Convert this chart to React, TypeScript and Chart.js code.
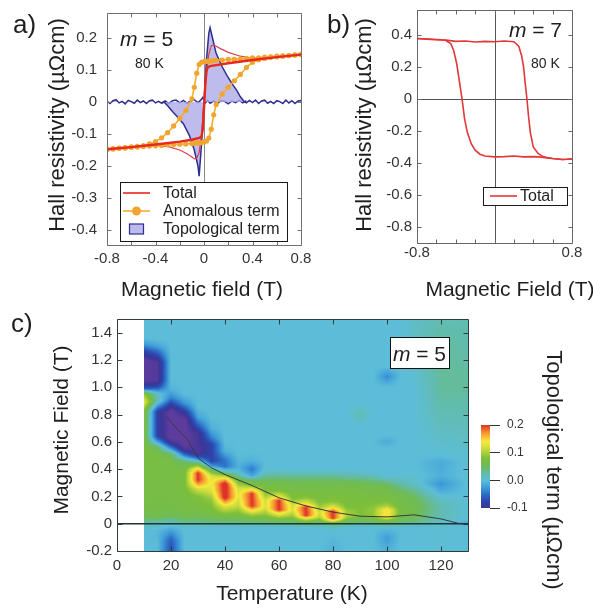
import React, { useEffect, useRef } from 'react';
import { Chart, registerables } from 'chart.js';

Chart.register(...registerables);

const FONT = '"Liberation Sans", Arial, Helvetica, sans-serif';
Chart.defaults.font.family = FONT;
Chart.defaults.color = '#333';

// ---------------- panel a: m = 5, 80 K ----------------
const aTicksX = [-0.8, -0.6, -0.4, -0.2, 0, 0.2, 0.4, 0.6, 0.8];
const aTickLabelsX = ['-0.8', '', '-0.4', '', '0', '', '0.4', '', '0.8'];
const aTicksY = [-0.4, -0.3, -0.2, -0.1, 0, 0.1, 0.2];
const aTickLabelsY = ['-0.4', '-0.3', '-0.2', '-0.1', '0', '0.1', '0.2'];

const totalThickField = [-0.8, -0.6, -0.4, -0.2, -0.1, -0.04, -0.02, -0.01, 0, 0.01, 0.02, 0.03, 0.05, 0.1, 0.2, 0.4, 0.6, 0.8];
const totalThick = [-0.148, -0.141, -0.133, -0.124, -0.118, -0.112, -0.108, -0.085, -0.02, 0.05, 0.095, 0.108, 0.112, 0.115, 0.121, 0.131, 0.14, 0.148];

const totalThinField = [-0.8, -0.6, -0.4, -0.3, -0.2, -0.14, -0.1, -0.08, -0.06, -0.04, -0.02, 0, 0.02, 0.04, 0.06, 0.08, 0.1, 0.14, 0.2, 0.3, 0.4, 0.6, 0.8];
const totalThin = [-0.149, -0.142, -0.136, -0.139, -0.15, -0.162, -0.172, -0.178, -0.176, -0.158, -0.1, -0.005, 0.09, 0.15, 0.176, 0.178, 0.174, 0.166, 0.155, 0.143, 0.137, 0.142, 0.149];

const anomField = [-0.8, -0.75, -0.7, -0.65, -0.6, -0.55, -0.5, -0.45, -0.4, -0.35, -0.3, -0.25, -0.2, -0.15, -0.1, -0.08, -0.06, -0.04, -0.02, 0, 0.02, 0.04, 0.06, 0.08, 0.1, 0.15, 0.2, 0.25, 0.3, 0.35, 0.4, 0.45, 0.5, 0.55, 0.6, 0.65, 0.7, 0.75, 0.8];
const anomUp = [-0.148, -0.147, -0.144, -0.143, -0.14, -0.139, -0.136, -0.131, -0.124, -0.112, -0.096, -0.075, -0.052, -0.027, 0.01, 0.046, 0.09, 0.117, 0.124, 0.126, 0.127, 0.127, 0.128, 0.129, 0.13, 0.131, 0.133, 0.133, 0.135, 0.136, 0.138, 0.138, 0.14, 0.141, 0.143, 0.144, 0.145, 0.147, 0.149];
const anomDown = [-0.149, -0.146, -0.145, -0.144, -0.142, -0.141, -0.139, -0.138, -0.137, -0.136, -0.134, -0.133, -0.132, -0.131, -0.13, -0.129, -0.128, -0.128, -0.127, -0.125, -0.122, -0.113, -0.085, -0.04, -0.008, 0.025, 0.046, 0.066, 0.086, 0.108, 0.124, 0.132, 0.136, 0.139, 0.141, 0.143, 0.145, 0.147, 0.148];

const topoField = [-0.8, -0.775, -0.75, -0.725, -0.7, -0.675, -0.65, -0.625, -0.6, -0.575, -0.55, -0.525, -0.5, -0.475, -0.45, -0.425, -0.4, -0.375, -0.35,
  -0.33, -0.3, -0.26, -0.22, -0.17, -0.12, -0.08, -0.05, -0.04, -0.02, 0, 0.02, 0.04, 0.05, 0.07, 0.1, 0.15, 0.19, 0.23, 0.27, 0.3, 0.33,
  0.35, 0.375, 0.4, 0.425, 0.45, 0.475, 0.5, 0.525, 0.55, 0.575, 0.6, 0.625, 0.65, 0.675, 0.7, 0.725, 0.75, 0.775, 0.8];
const topoTerm = [0.003, -0.005, 0.004, 0.007, -0.003, 0.002, -0.006, 0.005, 0.001, -0.004, 0.006, -0.002, 0.003, -0.005, 0.004, 0.006, -0.003, 0.002, -0.004,
  0.0, -0.012, -0.03, -0.046, -0.068, -0.105, -0.15, -0.2, -0.232, -0.13, 0.0, 0.13, 0.215, 0.232, 0.2, 0.152, 0.11, 0.082, 0.058, 0.036, 0.016, 0.002,
  -0.003, 0.005, -0.002, 0.006, -0.005, 0.003, 0.006, -0.004, 0.002, -0.005, 0.004, 0.001, -0.005, 0.006, -0.003, 0.004, -0.005, 0.003, 0.005];

const topoBaseField = [-0.35, -0.32, -0.29, -0.26, -0.23, -0.2, -0.17, -0.14, -0.11, -0.08, -0.05, -0.03, -0.01, 0.01, 0.03, 0.05, 0.08, 0.11, 0.14, 0.17, 0.2, 0.23, 0.26, 0.29, 0.32, 0.35];
const topoBase = [-0.004, 0.003, -0.005, 0.004, 0.006, -0.003, 0.005, -0.004, 0.003, 0.007, -0.002, 0.004, 0.014, -0.003, 0.005, -0.004, 0.003, -0.005, 0.004, 0.002, -0.006, 0.003, -0.002, 0.005, -0.003, 0.004];

// ---------------- panel b: m = 7, 80 K ----------------
const bTicksX = [-0.8, -0.6, -0.4, -0.2, 0, 0.2, 0.4, 0.6, 0.8];
const bTickLabelsX = ['-0.8', '', '', '', '', '', '', '', '0.8'];
const bTicksY = [-0.8, -0.6, -0.4, -0.2, 0, 0.2, 0.4];
const bTickLabelsY = ['-0.8', '-0.6', '-0.4', '-0.2', '0', '0.2', '0.4'];

const bFieldDown = [0.8, 0.75, 0.7, 0.65, 0.6, 0.55, 0.5, 0.45, 0.4, 0.3, 0.2, 0.1, 0, -0.1, -0.15, -0.2, -0.24, -0.28, -0.31, -0.335, -0.36, -0.39, -0.42, -0.45, -0.5, -0.55, -0.6, -0.7, -0.8];
const bTotalDown = [-0.374, -0.377, -0.378, -0.375, -0.372, -0.368, -0.365, -0.362, -0.36, -0.362, -0.356, -0.36, -0.362, -0.356, -0.345, -0.32, -0.28, -0.21, -0.12, 0.0, 0.1, 0.22, 0.3, 0.345, 0.365, 0.37, 0.372, 0.375, 0.378];
const bFieldUp = [-0.8, -0.7, -0.6, -0.5, -0.4, -0.3, -0.2, -0.1, 0, 0.1, 0.2, 0.25, 0.28, 0.3, 0.32, 0.335, 0.35, 0.37, 0.4, 0.45, 0.5, 0.55, 0.6, 0.7, 0.8];
const bTotalUp = [0.378, 0.374, 0.37, 0.368, 0.36, 0.362, 0.356, 0.36, 0.358, 0.362, 0.358, 0.33, 0.27, 0.2, 0.08, 0.0, -0.1, -0.21, -0.3, -0.34, -0.36, -0.368, -0.372, -0.378, -0.375];

// ---------------- panel c: topological term map ----------------
const cTicksX = [0, 20, 40, 60, 80, 100, 120];
const cTickLabelsX = ['0', '20', '40', '60', '80', '100', '120'];
const cTicksY = [-0.2, 0, 0.2, 0.4, 0.6, 0.8, 1.0, 1.2, 1.4];
const cTickLabelsY = ['-0.2', '0', '0.2', '0.4', '0.6', '0.8', '1.0', '1.2', '1.4'];

const heatTemps = [10, 15, 20, 25, 30, 35, 40, 45, 50, 55, 60, 65, 70, 75, 80, 85, 90, 95, 100, 105, 110, 120, 130];
// each column: [field (T), topological term (µΩcm)]
const col10 = [[-0.2, 0.0], [-0.06, 0.0], [0.0, 0.02], [0.06, 0.06], [0.2, 0.07], [0.6, 0.075], [0.83, 0.085], [0.89, 0.135], [0.95, 0.09], [0.99, -0.06], [1.04, -0.125], [1.2, -0.13], [1.26, -0.08], [1.31, -0.03], [1.36, 0.0], [1.5, 0.0]];
const col15 = [[-0.2, 0.0], [-0.05, -0.005], [0.0, 0.015], [0.05, 0.06], [0.2, 0.068], [0.5, 0.07], [0.56, 0.05], [0.6, -0.02], [0.64, -0.08], [0.82, -0.085], [0.86, -0.03], [0.9, 0.02], [0.95, 0.01], [1.0, -0.07], [1.05, -0.12], [1.18, -0.12], [1.24, -0.07], [1.3, -0.02], [1.35, 0.0], [1.5, 0.0]];
const col20 = [[-0.2, -0.07], [-0.12, -0.06], [-0.05, -0.02], [0.0, 0.01], [0.05, 0.05], [0.12, 0.068], [0.45, 0.07], [0.51, 0.05], [0.55, -0.03], [0.59, -0.1], [0.63, -0.135], [0.82, -0.135], [0.87, -0.09], [0.92, -0.04], [0.98, -0.01], [1.05, 0.0], [1.5, 0.0]];
const col25 = [[-0.2, 0.0], [-0.03, 0.0], [0.02, 0.04], [0.08, 0.068], [0.3, 0.075], [0.4, 0.07], [0.46, 0.04], [0.5, -0.04], [0.54, -0.11], [0.58, -0.135], [0.76, -0.135], [0.82, -0.09], [0.88, -0.03], [0.95, 0.0], [1.5, 0.0]];
const col30 = [[-0.2, 0.0], [-0.03, 0.0], [0.02, 0.04], [0.08, 0.065], [0.2, 0.08], [0.25, 0.115], [0.29, 0.17], [0.32, 0.2], [0.37, 0.2], [0.4, 0.15], [0.43, 0.08], [0.46, 0.0], [0.49, -0.07], [0.52, -0.115], [0.66, -0.11], [0.72, -0.06], [0.78, -0.02], [0.85, 0.0], [1.5, 0.0]];
const col35 = [[-0.2, 0.0], [-0.03, 0.0], [0.02, 0.045], [0.08, 0.07], [0.18, 0.09], [0.24, 0.125], [0.3, 0.135], [0.35, 0.12], [0.39, 0.06], [0.42, -0.02], [0.46, -0.08], [0.58, -0.08], [0.63, -0.04], [0.7, -0.01], [0.78, 0.0], [1.5, 0.0]];
const col40 = [[-0.2, 0.0], [-0.03, 0.0], [0.02, 0.045], [0.07, 0.08], [0.12, 0.12], [0.16, 0.17], [0.19, 0.21], [0.29, 0.215], [0.32, 0.17], [0.35, 0.1], [0.38, 0.02], [0.42, -0.05], [0.47, -0.045], [0.53, -0.01], [0.6, 0.0], [1.5, 0.0]];
const col45 = [[-0.2, 0.0], [-0.03, 0.0], [0.02, 0.045], [0.08, 0.08], [0.14, 0.115], [0.2, 0.13], [0.26, 0.12], [0.3, 0.08], [0.34, 0.04], [0.38, 0.0], [0.42, -0.01], [0.5, 0.0], [1.5, 0.0]];
const col50 = [[-0.2, 0.0], [-0.03, 0.0], [0.02, 0.05], [0.07, 0.1], [0.1, 0.15], [0.13, 0.2], [0.22, 0.2], [0.25, 0.14], [0.28, 0.08], [0.32, 0.045], [0.35, -0.02], [0.4, -0.045], [0.46, -0.01], [0.52, 0.0], [1.5, 0.0]];
const col55 = [[-0.2, 0.0], [-0.03, 0.0], [0.02, 0.05], [0.07, 0.09], [0.12, 0.125], [0.17, 0.12], [0.22, 0.085], [0.27, 0.07], [0.32, 0.05], [0.37, 0.015], [0.42, 0.0], [1.5, 0.0]];
const col60 = [[-0.2, 0.0], [-0.03, 0.0], [0.02, 0.055], [0.05, 0.1], [0.08, 0.15], [0.1, 0.2], [0.17, 0.2], [0.2, 0.13], [0.24, 0.08], [0.3, 0.06], [0.35, 0.03], [0.4, 0.0], [1.5, 0.0]];
const col65 = [[-0.2, 0.0], [-0.03, 0.0], [0.02, 0.055], [0.06, 0.095], [0.1, 0.125], [0.14, 0.115], [0.18, 0.08], [0.25, 0.068], [0.3, 0.058], [0.35, 0.03], [0.4, 0.0], [1.5, 0.0]];
const col70 = [[-0.2, 0.0], [-0.03, 0.0], [0.01, 0.06], [0.03, 0.11], [0.06, 0.2], [0.12, 0.2], [0.15, 0.13], [0.19, 0.085], [0.25, 0.068], [0.3, 0.058], [0.35, 0.03], [0.4, 0.0], [1.5, 0.0]];
const col75 = [[-0.2, 0.0], [-0.03, 0.0], [0.02, 0.065], [0.05, 0.105], [0.08, 0.12], [0.12, 0.095], [0.16, 0.078], [0.25, 0.068], [0.3, 0.058], [0.35, 0.03], [0.4, 0.0], [1.5, 0.0]];
const col80 = [[-0.2, -0.01], [-0.05, 0.0], [0.0, 0.04], [0.02, 0.13], [0.04, 0.2], [0.09, 0.2], [0.12, 0.13], [0.16, 0.085], [0.25, 0.068], [0.3, 0.058], [0.35, 0.03], [0.4, 0.0], [1.5, 0.0]];
const col85 = [[-0.2, 0.0], [-0.03, 0.0], [0.02, 0.06], [0.05, 0.1], [0.08, 0.1], [0.12, 0.08], [0.25, 0.068], [0.3, 0.055], [0.35, 0.025], [0.4, 0.0], [1.5, 0.0]];
const col90 = [[-0.2, 0.0], [-0.03, 0.0], [0.02, 0.05], [0.06, 0.08], [0.1, 0.08], [0.25, 0.068], [0.3, 0.055], [0.35, 0.02], [0.4, 0.0], [0.72, 0.0], [0.8, 0.02], [0.88, 0.0], [1.5, 0.0]];
const col95 = [[-0.2, 0.0], [-0.03, 0.0], [0.02, 0.055], [0.06, 0.09], [0.1, 0.09], [0.2, 0.07], [0.28, 0.06], [0.33, 0.03], [0.38, 0.0], [1.5, 0.0]];
const col100 = [[-0.2, -0.01], [-0.1, -0.025], [-0.03, 0.0], [0.02, 0.07], [0.04, 0.12], [0.06, 0.148], [0.1, 0.148], [0.13, 0.1], [0.17, 0.075], [0.25, 0.065], [0.3, 0.04], [0.35, 0.0], [0.55, 0.0], [0.6, -0.015], [0.65, 0.0], [1.0, 0.0], [1.08, -0.035], [1.15, 0.0], [1.5, 0.0]];
const col105 = [[-0.2, 0.0], [-0.03, 0.0], [0.02, 0.05], [0.08, 0.07], [0.2, 0.062], [0.25, 0.045], [0.3, 0.02], [0.36, 0.0], [1.5, 0.0]];
const col110 = [[-0.2, 0.0], [-0.03, 0.0], [0.03, 0.05], [0.1, 0.062], [0.2, 0.05], [0.25, 0.03], [0.3, 0.01], [0.4, 0.0], [1.0, 0.0], [1.2, 0.01], [1.5, 0.01]];
const col120 = [[-0.2, 0.0], [0.0, 0.005], [0.05, 0.02], [0.15, 0.02], [0.23, -0.01], [0.29, -0.03], [0.35, -0.01], [0.45, -0.015], [0.5, 0.0], [0.8, 0.02], [1.0, 0.03], [1.3, 0.03], [1.5, 0.02]];
const col130 = [[-0.2, 0.0], [-0.02, 0.0], [0.0, -0.02], [0.03, 0.0], [0.5, 0.005], [0.8, 0.02], [1.0, 0.03], [1.5, 0.02]];
const heatCols = [col10, col15, col20, col25, col30, col35, col40, col45, col50, col55, col60, col65, col70, col75, col80, col85, col90, col95, col100, col105, col110, col120, col130];

const boundTemp = [18.5, 22, 26, 30, 35, 40, 50, 60, 70, 80, 90, 100, 110, 120, 127];
const boundField = [0.78, 0.7, 0.62, 0.48, 0.41, 0.36, 0.28, 0.19, 0.13, 0.085, 0.055, 0.05, 0.065, 0.035, 0.0];
const zeroTemp = [0, 130];
const zeroField = [0, 0];

// colour scale
const cmapValues = [-0.13, -0.1, -0.075, -0.05, -0.025, 0.0, 0.025, 0.05, 0.08, 0.11, 0.14, 0.17, 0.2];
const cmapColors = ['#5d3c9e', '#3b3596', '#2b47ae', '#2e6fc6', '#3f9dd9', '#5dbdd8', '#62bcaa', '#6dbb5a', '#7dbf3a', '#c3d83a', '#f6ea3e', '#f59b30', '#e0302a'];
const cbTicks = [-0.1, 0, 0.1, 0.2];
const cbTickLabels = ['-0.1', '0.0', '0.1', '0.2'];

// ---------------- helpers ----------------
const pts = (xs: number[], ys: number[]) => xs.map((x, i) => ({ x, y: ys[i] }));
const fnt = (size: number, italic = false) => `${italic ? 'italic ' : ''}${size}px ${FONT}`;
const hexRgb = (h: string) => [parseInt(h.slice(1, 3), 16), parseInt(h.slice(3, 5), 16), parseInt(h.slice(5, 7), 16)];
const cmapRgb = cmapColors.map(hexRgb);

function cmap(v: number): number[] {
  const n = cmapValues.length;
  if (v <= cmapValues[0]) return cmapRgb[0];
  if (v >= cmapValues[n - 1]) return cmapRgb[n - 1];
  let i = 0;
  while (i < n - 2 && v > cmapValues[i + 1]) i++;
  const f = (v - cmapValues[i]) / (cmapValues[i + 1] - cmapValues[i]);
  const a = cmapRgb[i], b = cmapRgb[i + 1];
  return [0, 1, 2].map((k) => Math.round(a[k] + (b[k] - a[k]) * f));
}

function profileAt(col: number[][], b: number): number {
  if (b <= col[0][0]) return col[0][1];
  for (let i = 0; i < col.length - 1; i++) {
    if (b <= col[i + 1][0]) {
      const f = (b - col[i][0]) / (col[i + 1][0] - col[i][0]);
      return col[i][1] + (col[i + 1][1] - col[i][1]) * f;
    }
  }
  return col[col.length - 1][1];
}

function axisX(ticks: number[], labels: string[], min: number, max: number, height: number, padding: number, size = 15): any {
  return {
    type: 'linear', min, max,
    afterBuildTicks: (s: any) => { s.ticks = ticks.map((v) => ({ value: v })); },
    afterFit: (s: any) => { s.height = height; s.paddingLeft = 0; s.paddingRight = 0; },
    ticks: { callback: (_v: any, i: number) => labels[i], padding, autoSkip: false, maxRotation: 0, minRotation: 0, font: { size, family: FONT }, color: '#333' },
    grid: { display: false, drawTicks: false },
    border: { display: false },
  };
}

function axisY(ticks: number[], labels: string[], min: number, max: number, width: number, padding: number, size = 15): any {
  return {
    type: 'linear', min, max,
    afterBuildTicks: (s: any) => { s.ticks = ticks.map((v) => ({ value: v })); },
    afterFit: (s: any) => { s.width = width; s.paddingTop = 0; s.paddingBottom = 0; },
    ticks: { callback: (_v: any, i: number) => labels[i], padding, autoSkip: false, font: { size, family: FONT }, color: '#333' },
    grid: { display: false, drawTicks: false },
    border: { display: false },
  };
}

type TextItem = {
  x: number; y: number; size: number; parts: { t: string; italic?: boolean }[];
  align?: 'left' | 'center' | 'right'; rot?: number; baseline?: CanvasTextBaseline; color?: string;
  box?: [number, number, number, number];
};

function textPlugin(items: TextItem[]) {
  return {
    id: 'texts',
    afterDraw(chart: any) {
      const ctx: CanvasRenderingContext2D = chart.ctx;
      for (const it of items) {
        ctx.save();
        if (it.box) {
          const [bx, by, bw, bh] = it.box;
          ctx.fillStyle = '#fff';
          ctx.fillRect(bx, by, bw, bh);
          ctx.strokeStyle = '#111';
          ctx.lineWidth = 1;
          ctx.strokeRect(bx + 0.5, by + 0.5, bw, bh);
        }
        ctx.translate(it.x, it.y);
        if (it.rot) ctx.rotate(it.rot);
        ctx.textBaseline = it.baseline || 'alphabetic';
        ctx.textAlign = 'left';
        ctx.fillStyle = it.color || '#1e1e1e';
        let w = 0;
        for (const p of it.parts) { ctx.font = fnt(it.size, p.italic); w += ctx.measureText(p.t).width; }
        let cx = it.align === 'center' ? -w / 2 : it.align === 'right' ? -w : 0;
        for (const p of it.parts) {
          ctx.font = fnt(it.size, p.italic);
          ctx.fillText(p.t, cx, 0);
          cx += ctx.measureText(p.t).width;
        }
        ctx.restore();
      }
    },
  };
}

function framePlugin(cfg: { color: string; tickLen: number; zeroX?: boolean; zeroY?: boolean; zeroColor?: string }) {
  const px = (v: number) => Math.round(v) + 0.5;
  return {
    id: 'frame',
    beforeDatasetsDraw(chart: any) {
      const { ctx, chartArea: ca, scales } = chart;
      ctx.save();
      ctx.strokeStyle = cfg.zeroColor || '#888';
      ctx.lineWidth = 1;
      if (cfg.zeroX) {
        const x = px(scales.x.getPixelForValue(0));
        ctx.beginPath(); ctx.moveTo(x, ca.top); ctx.lineTo(x, ca.bottom); ctx.stroke();
      }
      if (cfg.zeroY) {
        const y = px(scales.y.getPixelForValue(0));
        ctx.beginPath(); ctx.moveTo(ca.left, y); ctx.lineTo(ca.right, y); ctx.stroke();
      }
      ctx.restore();
    },
    afterDatasetsDraw(chart: any) {
      const { ctx, chartArea: ca, scales } = chart;
      const L = px(ca.left), R = px(ca.right), T = px(ca.top), B = px(ca.bottom);
      ctx.save();
      ctx.strokeStyle = cfg.color;
      ctx.lineWidth = 1;
      ctx.beginPath();
      ctx.rect(L, T, R - L, B - T);
      const n = cfg.tickLen;
      for (const t of scales.x.ticks) {
        const x = px(scales.x.getPixelForValue(t.value));
        ctx.moveTo(x, B); ctx.lineTo(x, B - n);
        ctx.moveTo(x, T); ctx.lineTo(x, T + n);
      }
      for (const t of scales.y.ticks) {
        const y = px(scales.y.getPixelForValue(t.value));
        ctx.moveTo(L, y); ctx.lineTo(L + n, y);
        ctx.moveTo(R, y); ctx.lineTo(R - n, y);
      }
      ctx.stroke();
      ctx.restore();
    },
  };
}

type LegendRow = { ds: number; y: number; kind: 'line' | 'point' | 'box' };
function legendPlugin(cfg: { box: [number, number, number, number]; rows: LegendRow[]; sx0: number; sx1: number; tx: number; size: number }) {
  return {
    id: 'boxLegend',
    afterDraw(chart: any) {
      const ctx: CanvasRenderingContext2D = chart.ctx;
      const [bx, by, bw, bh] = cfg.box;
      ctx.save();
      ctx.fillStyle = '#fff';
      ctx.fillRect(bx, by, bw, bh);
      ctx.strokeStyle = '#1a1a1a';
      ctx.lineWidth = 1;
      ctx.strokeRect(bx + 0.5, by + 0.5, bw, bh);
      for (const r of cfg.rows) {
        const ds = chart.data.datasets[r.ds];
        const mid = (cfg.sx0 + cfg.sx1) / 2;
        if (r.kind === 'box') {
          ctx.fillStyle = ds.backgroundColor;
          ctx.fillRect(mid - 7, r.y - 5, 14, 10);
          ctx.strokeStyle = ds.borderColor;
          ctx.lineWidth = 1.2;
          ctx.strokeRect(mid - 7, r.y - 5, 14, 10);
        } else {
          ctx.strokeStyle = ds.borderColor;
          ctx.lineWidth = 1.6;
          ctx.beginPath(); ctx.moveTo(cfg.sx0, r.y); ctx.lineTo(cfg.sx1, r.y); ctx.stroke();
          if (r.kind === 'point') {
            ctx.fillStyle = ds.pointBackgroundColor;
            ctx.beginPath(); ctx.arc(mid, r.y, 4.5, 0, Math.PI * 2); ctx.fill();
          }
        }
        ctx.fillStyle = '#1e1e1e';
        ctx.font = fnt(cfg.size);
        ctx.textBaseline = 'middle';
        ctx.textAlign = 'left';
        ctx.fillText(ds.label, cfg.tx, r.y + 1);
      }
      ctx.restore();
    },
  };
}

const heatmapPlugin = {
  id: 'heatmap',
  beforeDatasetsDraw(chart: any) {
    const { ctx, chartArea: ca, scales } = chart;
    const xs = scales.x, ys = scales.y;
    const x0 = Math.round(Math.max(ca.left, xs.getPixelForValue(heatTemps[0])));
    const x1 = Math.round(Math.min(ca.right, xs.getPixelForValue(heatTemps[heatTemps.length - 1])));
    const y0 = Math.round(ca.top), y1 = Math.round(ca.bottom);
    const w = x1 - x0, h = y1 - y0;
    if (w <= 0 || h <= 0) return;
    const off = document.createElement('canvas');
    off.width = w; off.height = h;
    const octx = off.getContext('2d')!;
    const img = octx.createImageData(w, h);
    const rowB: number[] = [];
    for (let r = 0; r < h; r++) rowB.push(ys.getValueForPixel(y0 + r + 0.5));
    const colRows = heatCols.map((col) => rowB.map((b) => profileAt(col, b)));
    for (let c = 0; c < w; c++) {
      const t = xs.getValueForPixel(x0 + c + 0.5);
      let i = 0;
      while (i < heatTemps.length - 2 && t > heatTemps[i + 1]) i++;
      const f = Math.min(1, Math.max(0, (t - heatTemps[i]) / (heatTemps[i + 1] - heatTemps[i])));
      for (let r = 0; r < h; r++) {
        const v = colRows[i][r] * (1 - f) + colRows[i + 1][r] * f;
        const rgb = cmap(v);
        const k = (r * w + c) * 4;
        img.data[k] = rgb[0]; img.data[k + 1] = rgb[1]; img.data[k + 2] = rgb[2]; img.data[k + 3] = 255;
      }
    }
    octx.putImageData(img, 0, 0);
    ctx.drawImage(off, x0, y0);
  },
};

const colorbarPlugin = {
  id: 'colorbar',
  beforeDatasetsDraw(chart: any) {
    const { ctx, chartArea: ca, scales } = chart;
    const y = scales.y;
    for (let py = Math.round(ca.top); py < Math.round(ca.bottom); py++) {
      const rgb = cmap(y.getValueForPixel(py + 0.5));
      ctx.fillStyle = `rgb(${rgb[0]},${rgb[1]},${rgb[2]})`;
      ctx.fillRect(ca.left, py, ca.right - ca.left, 1);
    }
  },
};

const base: any = { responsive: false, maintainAspectRatio: false, animation: false, devicePixelRatio: 1, events: [] };
const noLegend = { legend: { display: false }, tooltip: { enabled: false } };

function configA(): any {
  return {
    type: 'line',
    data: {
      datasets: [
        { label: 'Total', data: pts(totalThickField, totalThick), borderColor: '#e8281e', borderWidth: 2.4, pointRadius: 0, order: 1 },
        { label: 'Anomalous term', data: pts(anomField, anomUp), borderColor: '#f0b030', borderWidth: 1.6, pointRadius: 2.6, pointBorderWidth: 0, pointBackgroundColor: '#f2a52e', order: 2 },
        { label: 'Anomalous term', data: pts(anomField, anomDown), borderColor: '#f0b030', borderWidth: 1.6, pointRadius: 2.6, pointBorderWidth: 0, pointBackgroundColor: '#f2a52e', order: 2 },
        { label: 'Total', data: pts(totalThinField, totalThin), borderColor: '#d8404e', borderWidth: 1.2, pointRadius: 0, order: 3 },
        { label: 'Topological term', data: pts(topoField, topoTerm), borderColor: '#2e2f8c', backgroundColor: 'rgba(172,168,232,0.78)', fill: 'origin', borderWidth: 1.5, pointRadius: 0, order: 4 },
        { label: 'Topological term', data: pts(topoBaseField, topoBase), borderColor: '#2e2f8c', borderWidth: 1.5, pointRadius: 0, order: 4 },
      ],
    },
    options: {
      ...base,
      layout: { padding: { left: 0, top: 13, right: 14, bottom: 0 } },
      plugins: noLegend,
      scales: {
        x: axisX(aTicksX, aTickLabelsX, -0.8, 0.8, 60, 5),
        y: axisY(aTicksY, aTickLabelsY, -0.447, 0.278, 107, 10),
      },
    },
    plugins: [
      framePlugin({ color: '#707070', tickLen: 4, zeroX: true, zeroColor: '#8a8a8a' }),
      legendPlugin({ box: [120, 182, 167, 59], rows: [{ ds: 0, y: 193, kind: 'line' }, { ds: 1, y: 211, kind: 'point' }, { ds: 4, y: 229, kind: 'box' }], sx0: 123, sx1: 150, tx: 163, size: 16 }),
      textPlugin([
        { x: 13, y: 33, size: 26, parts: [{ t: 'a)' }] },
        { x: 58, y: 125, size: 22, parts: [{ t: 'Hall resistivity (µΩcm)' }], align: 'center', rot: -Math.PI / 2, baseline: 'middle' },
        { x: 202, y: 290, size: 21, parts: [{ t: 'Magnetic field (T)' }], align: 'center', baseline: 'middle' },
        { x: 120, y: 46, size: 21, parts: [{ t: 'm', italic: true }, { t: ' = 5' }] },
        { x: 135, y: 68, size: 14, parts: [{ t: '80 K' }] },
      ]),
    ],
  };
}

function configB(): any {
  return {
    type: 'line',
    data: {
      datasets: [
        { label: 'Total', data: pts(bFieldDown, bTotalDown), borderColor: '#e2383a', borderWidth: 1.6, pointRadius: 0 },
        { label: 'Total', data: pts(bFieldUp, bTotalUp), borderColor: '#e2383a', borderWidth: 1.6, pointRadius: 0 },
      ],
    },
    options: {
      ...base,
      layout: { padding: { left: 0, top: 10, right: 21, bottom: 0 } },
      plugins: noLegend,
      scales: {
        x: axisX(bTicksX, bTickLabelsX, -0.8, 0.8, 62, 1),
        y: axisY(bTicksY, bTickLabelsY, -0.9, 0.556, 107, 5),
      },
    },
    plugins: [
      framePlugin({ color: '#666', tickLen: 4, zeroX: true, zeroY: true, zeroColor: '#555' }),
      legendPlugin({ box: [173, 187, 84, 18], rows: [{ ds: 0, y: 196, kind: 'line' }], sx0: 180, sx1: 207, tx: 210, size: 16 }),
      textPlugin([
        { x: 17, y: 33, size: 26, parts: [{ t: 'b)' }] },
        { x: 55, y: 125, size: 22, parts: [{ t: 'Hall resistivity (µΩcm)' }], align: 'center', rot: -Math.PI / 2, baseline: 'middle' },
        { x: 200, y: 290, size: 21, parts: [{ t: 'Magnetic Field (T)' }], align: 'center', baseline: 'middle' },
        { x: 252, y: 37, size: 21, parts: [{ t: 'm', italic: true }, { t: ' = 7' }], align: 'right' },
        { x: 221, y: 68, size: 14, parts: [{ t: '80 K' }] },
      ]),
    ],
  };
}

function configC(): any {
  return {
    type: 'line',
    data: {
      datasets: [
        { label: 'boundary', data: pts(boundTemp, boundField), borderColor: '#3a3a3a', borderWidth: 1, pointRadius: 0 },
        { label: 'zero', data: pts(zeroTemp, zeroField), borderColor: '#1d3535', borderWidth: 1.5, pointRadius: 0 },
      ],
    },
    options: {
      ...base,
      layout: { padding: { left: 0, top: 19, right: 7, bottom: 0 } },
      plugins: noLegend,
      scales: {
        x: axisX(cTicksX, cTickLabelsX, 0, 130, 59, 6),
        y: axisY(cTicksY, cTickLabelsY, -0.2, 1.5, 117, 5),
      },
    },
    plugins: [
      heatmapPlugin,
      framePlugin({ color: '#2e3e3e', tickLen: 5 }),
      textPlugin([
        { x: 11, y: 32, size: 26, parts: [{ t: 'c)' }] },
        { x: 62, y: 130, size: 21, parts: [{ t: 'Magnetic Field (T)' }], align: 'center', rot: -Math.PI / 2, baseline: 'middle' },
        { x: 292, y: 294, size: 21, parts: [{ t: 'Temperature (K)' }], align: 'center', baseline: 'middle' },
        { x: 419.5, y: 61, size: 21, parts: [{ t: 'm', italic: true }, { t: ' = 5' }], align: 'center', box: [390, 37, 59, 31] },
      ]),
    ],
  };
}

function configD(): any {
  return {
    type: 'scatter',
    data: { datasets: [] },
    options: {
      ...base,
      layout: { padding: { left: 11, top: 95, right: 0, bottom: 102 } },
      plugins: noLegend,
      scales: {
        x: { type: 'linear', display: false, min: 0, max: 1 },
        y: {
          type: 'linear', position: 'right', min: -0.1, max: 0.2,
          afterBuildTicks: (s: any) => { s.ticks = cbTicks.map((v) => ({ value: v })); },
          afterFit: (s: any) => { s.width = 103; s.paddingTop = 0; s.paddingBottom = 0; },
          ticks: { callback: (_v: any, i: number) => cbTickLabels[i], padding: 7, font: { size: 12, family: FONT }, color: '#333' },
          grid: { display: true, drawOnChartArea: false, drawTicks: true, tickLength: 10, color: '#333' },
          border: { display: false },
        },
      },
    },
    plugins: [
      colorbarPlugin,
      textPlugin([
        { x: 83, y: 140, size: 22, parts: [{ t: 'Topological term (µΩcm)' }], align: 'center', rot: Math.PI / 2, baseline: 'middle' },
      ]),
    ],
  };
}

export default function App() {
  const refA = useRef<HTMLCanvasElement>(null);
  const refB = useRef<HTMLCanvasElement>(null);
  const refC = useRef<HTMLCanvasElement>(null);
  const refD = useRef<HTMLCanvasElement>(null);

  useEffect(() => {
    const charts = [
      new Chart(refA.current!, configA()),
      new Chart(refB.current!, configB()),
      new Chart(refC.current!, configC()),
      new Chart(refD.current!, configD()),
    ];
    return () => charts.forEach((c) => c.destroy());
  }, []);

  const abs = (left: number, top: number): React.CSSProperties => ({ position: 'absolute', left, top });
  return (
    <div style={{ position: 'absolute', left: 0, top: 0, width: 593, height: 610, background: '#fff', overflow: 'hidden' }}>
      <canvas ref={refA} width={315} height={305} style={abs(0, 0)} />
      <canvas ref={refB} width={283} height={305} style={abs(310, 0)} />
      <canvas ref={refC} width={475} height={310} style={abs(0, 300)} />
      <canvas ref={refD} width={123} height={280} style={abs(470, 330)} />
    </div>
  );
}
